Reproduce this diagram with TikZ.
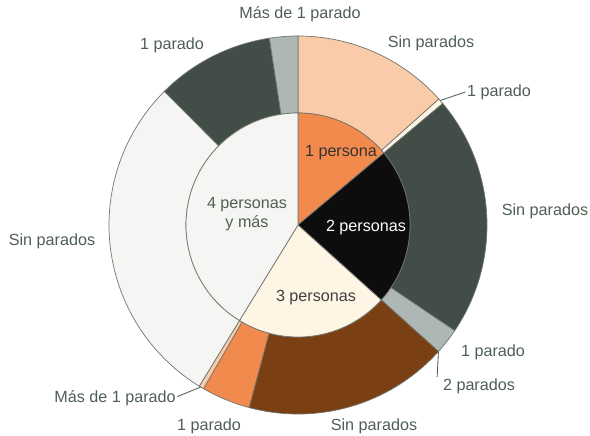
\documentclass[tikz,border=0pt]{standalone}
\usepackage{fontspec}
\setmainfont{Liberation Sans}
\definecolor{texto}{HTML}{4F5F55}
\definecolor{linea}{HTML}{6F756F}
\definecolor{naranja}{HTML}{F28A4E}
\definecolor{melocoton}{HTML}{FACBA8}
\definecolor{crema}{HTML}{FFF5E5}
\definecolor{negro}{HTML}{0D0D0D}
\definecolor{grisosc}{HTML}{434D48}
\definecolor{grisclaro}{HTML}{AEB7B4}
\definecolor{marron}{HTML}{7B3F14}
\definecolor{blanco}{HTML}{F5F6F3}
% trozo de corona: color, angulo inicial, angulo final
\newcommand{\trozo}[3]{\filldraw[fill=#1, draw=linea, line width=0.5pt] (#2:\rint) arc (#2:#3:\rint) -- (#3:\rext) arc (#3:#2:\rext) -- cycle;}
% trozo de tarta interior
\newcommand{\tarta}[3]{\filldraw[fill=#1, draw=linea, line width=0.5pt] (0,0) -- (#2:\rint) arc (#2:#3:\rint) -- cycle;}
\tikzset{
  etiqueta/.style={text=texto, font=\fontsize{11.5}{13}\selectfont, inner sep=1pt},
  guia/.style={draw=texto, line width=0.6pt}
}
\begin{document}
\begin{tikzpicture}
\def\rext{4.725}
\def\rint{2.8}
\useasboundingbox (-7.45,-5.25) rectangle (7.3,5.625);
% corona exterior
\trozo{melocoton}{41.8}{90}
\trozo{crema}{40}{41.8}
\trozo{grisosc}{-34}{40}
\trozo{grisclaro}{-42}{-34}
\trozo{marron}{-105}{-42}
\trozo{naranja}{-120}{-105}
\trozo{melocoton}{-121.5}{-120}
\trozo{blanco}{135}{238.5}
\trozo{grisosc}{98.7}{135}
\trozo{grisclaro}{90}{98.7}
% circulo interior
\tarta{naranja}{40}{90}
\tarta{negro}{-42}{40}
\tarta{crema}{-121.5}{-42}
\tarta{blanco}{90}{238.5}
\node[etiqueta, text=black!80] (p1) at (1.075,1.8) {1 persona};
\node[etiqueta, text=white] (p2) at (1.7,-0.075) {2 personas};
\node[etiqueta, text=black!75] (p3) at (0.45,-1.825) {3 personas};
\node[etiqueta, align=center] (p4) at (-1.275,0.275) {4 personas\\y más};
% etiquetas de fuera
\node[etiqueta] (a1) at (0.05,5.275) {Más de 1 parado};
\node[etiqueta] (a2) at (-3.15,4.5) {1 parado};
\node[etiqueta] (a3) at (3.325,4.55) {Sin parados};
\node[etiqueta] (b1) at (5.025,3.325) {1 parado};
\node[etiqueta] (b2) at (6.175,0.35) {Sin parados};
\node[etiqueta] (b3) at (4.875,-3.175) {1 parado};
\node[etiqueta] (b4) at (4.525,-4.025) {2 parados};
\node[etiqueta] (c1) at (1.9,-5.025) {Sin parados};
\node[etiqueta] (c2) at (-2.225,-5.025) {1 parado};
\node[etiqueta] (c3) at (-4.575,-4.325) {Más de 1 parado};
\node[etiqueta] (c4) at (-6.15,-0.4) {Sin parados};
% lineas guia
\coordinate (g1) at (41.2:\rext);
\coordinate (g2) at (-42:\rext);
\coordinate (g3) at (-121:\rext);
\draw[guia] (g1) -- (b1.west);
\draw[guia] (g2) -- ([xshift=-3pt]b4.north west);
\draw[guia] (g3) -- ([yshift=1pt]c3.east);
\end{tikzpicture}
\end{document}
